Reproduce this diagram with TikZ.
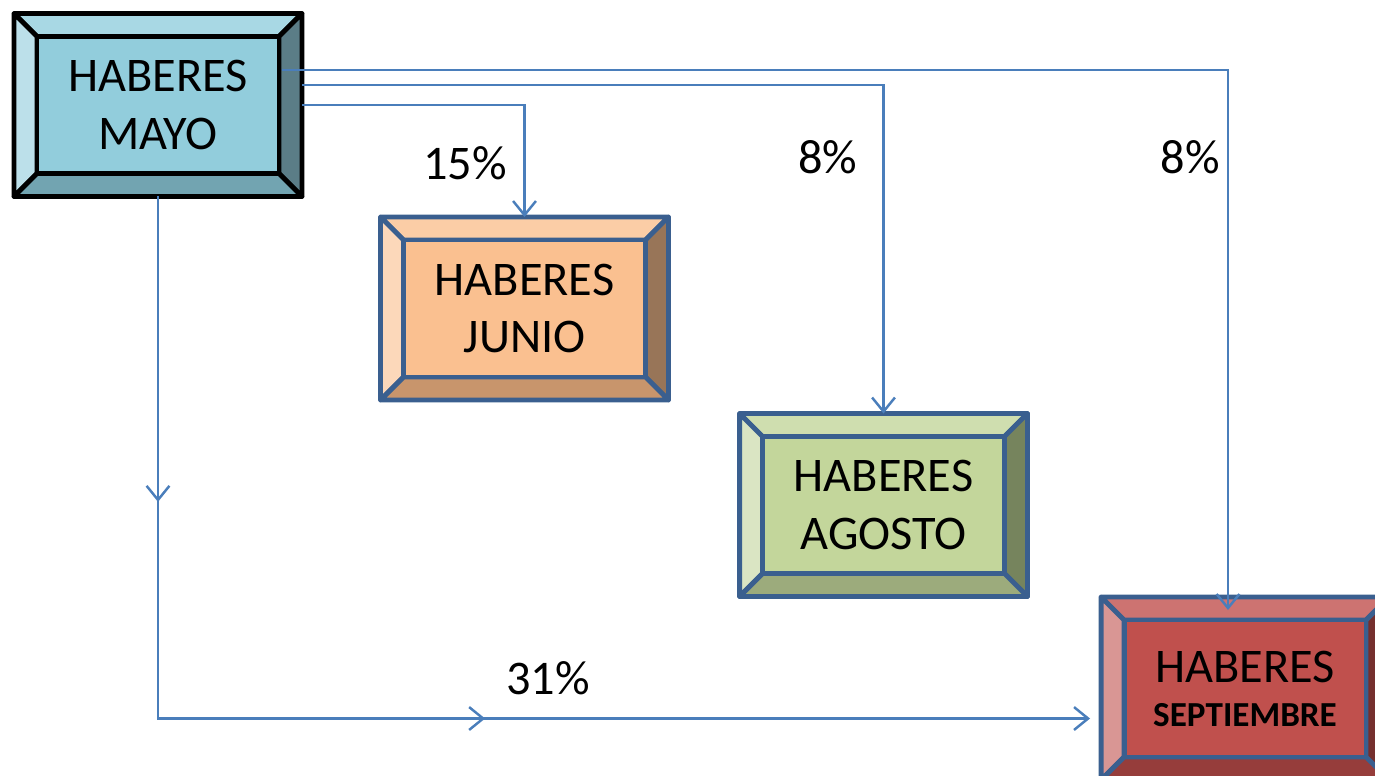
\documentclass[tikz,border=0pt]{standalone}
\usepackage{fontspec}
\setmainfont{Carlito}
\usetikzlibrary{calc,arrows.meta,decorations.markings}

\definecolor{linkblue}{HTML}{4A7EBB}
\definecolor{frameblue}{HTML}{3A5F8F}
% mayo
\definecolor{mayoface}{HTML}{92CDDC}
\definecolor{mayotop}{HTML}{A8D8E4}
\definecolor{mayoleft}{HTML}{BCE0EA}
\definecolor{mayoright}{HTML}{5B7D87}
\definecolor{mayobot}{HTML}{72A4B1}
% junio
\definecolor{junface}{HTML}{FAC090}
\definecolor{juntop}{HTML}{FBCDA6}
\definecolor{junleft}{HTML}{FCD8BA}
\definecolor{junright}{HTML}{987558}
\definecolor{junbot}{HTML}{C8956C}
% agosto
\definecolor{agoface}{HTML}{C3D69B}
\definecolor{agotop}{HTML}{CFDEAF}
\definecolor{agoleft}{HTML}{DAE5C3}
\definecolor{agoright}{HTML}{76845D}
\definecolor{agobot}{HTML}{9CAB7C}
% septiembre
\definecolor{sepface}{HTML}{C0504D}
\definecolor{septop}{HTML}{CD7371}
\definecolor{sepleft}{HTML}{D99694}
\definecolor{sepright}{HTML}{752F2E}
\definecolor{sepbot}{HTML}{963D3B}

\tikzset{
  boxfrm/.style={minimum width=5.76cm, minimum height=3.66cm, inner sep=0pt, outer sep=0pt},
  boxtxt/.style={align=center, font=\fontsize{27.5}{33}\selectfont},
  pct/.style={font=\fontsize{27.5}{33}\selectfont},
  link/.style={draw=linkblue, line width=1.4pt},
  tip/.style={-{Straight Barb[length=8pt,width=13pt]}},
}

% #1 name, #2 centre, #3 face, #4 top, #5 left, #6 right, #7 bottom, #8 frame, #9 text
\newcommand{\bevelbox}[9]{%
  \node[boxfrm] (#1) at #2 {};
  \coordinate (#1-nw) at ($(#1.north west)+(23,23)$);
  \coordinate (#1-ne) at ($(#1.north east)+(-23,23)$);
  \coordinate (#1-se) at ($(#1.south east)+(-23,-23)$);
  \coordinate (#1-sw) at ($(#1.south west)+(23,-23)$);
  \begin{scope}[draw=#8, line width=2.8pt, line join=round]
    \filldraw[fill=#4] (#1.north west) -- (#1.north east) -- (#1-ne) -- (#1-nw) -- cycle;
    \filldraw[fill=#5] (#1.north west) -- (#1-nw) -- (#1-sw) -- (#1.south west) -- cycle;
    \filldraw[fill=#6] (#1.north east) -- (#1.south east) -- (#1-se) -- (#1-ne) -- cycle;
    \filldraw[fill=#7] (#1.south west) -- (#1-sw) -- (#1-se) -- (#1.south east) -- cycle;
    \filldraw[fill=#3] (#1-nw) rectangle (#1-se);
  \end{scope}
  \node[boxtxt] (#1-txt) at (#1) {#9};
}

\begin{document}
\begin{tikzpicture}[x=0.02cm, y=-0.02cm]
    \clip (0,0) rectangle (1375,775);
    % The four boxes
    \bevelbox{mayo}{(158,105)}{mayoface}{mayotop}{mayoleft}{mayoright}{mayobot}{black}{HABERES\\MAYO}
    \bevelbox{junio}{(524.5,308.5)}{junface}{juntop}{junleft}{junright}{junbot}{frameblue}{HABERES\\JUNIO}
    \bevelbox{agosto}{(883.5,505)}{agoface}{agotop}{agoleft}{agoright}{agobot}{frameblue}{HABERES\\AGOSTO}
    \bevelbox{sept}{(1245,688.5)}{sepface}{septop}{sepleft}{sepright}{sepbot}{frameblue}{HABERES\\[-8pt]{\bfseries\fontsize{20}{24}\selectfont SEPTIEMBRE}}
    % Ends of the connectors at septiembre
    \coordinate (septtop) at ($(sept.north)+(-17,13)$);
    \coordinate (septleft) at ($(sept.west)+(-11,30)$);
    % Connectors
    \draw[link,tip] (mayo.east) -| (junio.north);
    \draw[link,tip] ($(mayo.east)+(0,-20)$) -| (agosto.north);
    \draw[link,tip] ($(mayo.east)+(-20,-35)$) -| (septtop);
    \draw[link,tip,
      decoration={markings,
        mark=at position 0.21 with {\arrow{Straight Barb[length=8pt,width=13pt]}},
        mark=at position 0.584 with {\arrow{Straight Barb[length=8pt,width=13pt]}}},
      postaction=decorate] (mayo.south) |- (septleft);
    % Percentages
    \node[pct] (p15) at (465,163) {15\%};
    \node[pct] (p8a) at (828,157) {8\%};
    \node[pct] (p8b) at (1190,157) {8\%};
    \node[pct] (p31) at (548,678) {31\%};
\end{tikzpicture}
\end{document}
